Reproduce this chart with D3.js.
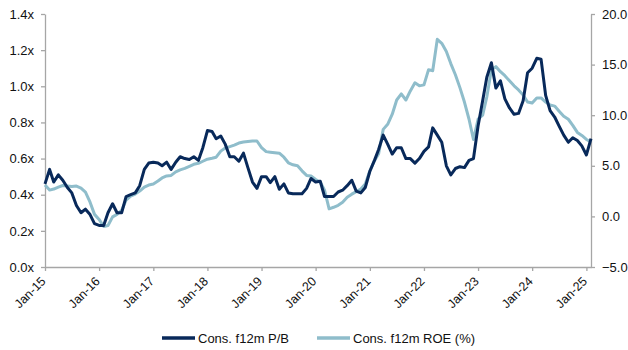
<!DOCTYPE html>
<html><head><meta charset="utf-8">
<script src="https://cdn.jsdelivr.net/npm/d3@7"></script>
<style>
body{margin:0;background:#fff;}
svg{display:block;font-family:"Liberation Sans",Arial,sans-serif;}
</style></head>
<body><svg id="c" width="628" height="350"></svg>
<script>
const startMonth = "2015-01";
const endMonth = "2025-02";
const pbValues = [0.46,0.54,0.47,0.51,0.48,0.44,0.41,0.34,0.30,0.32,0.29,0.24,
0.23,0.23,0.30,0.35,0.30,0.30,0.39,0.40,0.41,0.45,0.54,0.575,
0.58,0.575,0.56,0.58,0.54,0.58,0.61,0.60,0.595,0.61,0.59,0.66,
0.755,0.75,0.71,0.725,0.68,0.61,0.61,0.585,0.63,0.55,0.47,0.435,
0.50,0.50,0.467,0.50,0.43,0.46,0.41,0.405,0.405,0.405,0.435,0.49,
0.47,0.475,0.39,0.39,0.39,0.415,0.425,0.45,0.48,0.42,0.41,0.44,
0.53,0.59,0.65,0.73,0.68,0.625,0.66,0.66,0.60,0.60,0.575,0.60,
0.64,0.665,0.77,0.73,0.69,0.56,0.51,0.545,0.555,0.55,0.59,0.60,
0.78,0.92,1.05,1.13,0.99,1.03,0.93,0.88,0.845,0.85,0.92,1.075,
1.10,1.155,1.15,0.95,0.865,0.83,0.78,0.73,0.69,0.715,0.70,0.67,
0.62,0.71];
const roeValues = [3.1,2.6,2.7,2.9,3.05,3.0,2.95,3.0,2.8,2.4,1.4,0.2,
-0.3,-1.0,-0.9,-0.05,0.2,0.6,1.6,2.0,2.2,2.5,2.9,3.1,
3.2,3.5,3.8,4.0,4.05,4.4,4.6,4.75,4.95,5.15,5.25,5.45,
5.65,5.75,5.85,6.45,6.75,6.9,7.05,7.25,7.35,7.4,7.45,7.45,
6.8,6.4,6.35,6.3,6.25,5.85,5.3,5.1,5.0,4.5,4.05,4.0,
3.65,3.4,2.6,0.75,0.9,1.1,1.4,1.9,2.2,2.45,2.7,3.2,
4.5,5.5,6.2,8.6,9.1,10.1,11.5,12.1,11.5,12.4,13.2,12.9,
13.0,14.5,14.4,17.5,17.1,16.3,15.1,14.0,12.7,11.3,9.6,7.6,
9.6,10.0,11.8,14.5,14.8,14.3,13.9,13.4,12.9,12.5,12.0,11.3,
11.2,11.7,11.7,11.3,11.0,10.9,10.4,9.9,9.6,9.0,8.3,8.0,
7.6,7.35];
const xTickLabels = ["Jan-15","Jan-16","Jan-17","Jan-18","Jan-19","Jan-20","Jan-21","Jan-22","Jan-23","Jan-24","Jan-25"];
const leftTicks = [0.0,0.2,0.4,0.6,0.8,1.0,1.2,1.4];
const rightTicks = [-5.0,0.0,5.0,10.0,15.0,20.0];
const seriesNames = ["Cons. f12m P/B","Cons. f12m ROE (%)"];
const seriesColors = ["#08295a","#8fbdcb"];

const parseM = d3.utcParse("%Y-%m");
const parseTick = d3.utcParse("%b-%y");
const t0 = parseM(startMonth);
const dates = pbValues.map((_, i) => d3.utcMonth.offset(t0, i));

const svg = d3.select("#c");
const L = 45, R = 591, T = 14, B = 267;
const x = d3.scaleUtc().domain([t0, parseM(endMonth)]).range([L, R]);
const yL = d3.scaleLinear().domain([0, 1.4]).range([B, T]);
const yR = d3.scaleLinear().domain([-5, 20]).range([B, T]);
const axisColor = "#a6a6a6";

function styleAxis(g){
  g.selectAll(".domain").attr("stroke", axisColor).attr("stroke-width", 1.3);
  g.selectAll(".tick line").attr("stroke", axisColor).attr("stroke-width", 1.3);
  g.selectAll(".tick text").attr("fill", "#111").attr("font-size", 13)
   .attr("font-family", '"Liberation Sans",Arial,sans-serif');
}

const gl = svg.append("g").attr("transform", `translate(${L},0)`)
  .call(d3.axisLeft(yL).tickValues(leftTicks).tickFormat(d => d3.format(".1f")(d) + "x").tickSize(4).tickPadding(7).tickSizeOuter(0));
styleAxis(gl);

const gr = svg.append("g").attr("transform", `translate(${R},0)`)
  .call(d3.axisRight(yR).tickValues(rightTicks).tickFormat(d3.format(".1f")).tickSize(4).tickPadding(7).tickSizeOuter(0));
styleAxis(gr);

const gx = svg.append("g").attr("transform", `translate(0,${B})`)
  .call(d3.axisBottom(x).tickValues(xTickLabels.map(parseTick)).tickFormat((d, i) => xTickLabels[i]).tickSize(4).tickSizeOuter(0));
styleAxis(gx);
gx.selectAll(".tick text").attr("text-anchor", "end").attr("font-size", 12.5)
  .attr("x", 0).attr("y", 0).attr("dy", null)
  .attr("transform", "translate(1,15) rotate(-45)");

const lineL = d3.line().x((d, i) => x(dates[i])).y(d => yL(d));
const lineR = d3.line().x((d, i) => x(dates[i])).y(d => yR(d));

svg.append("path").datum(roeValues).attr("d", lineR).attr("fill", "none")
  .attr("stroke", seriesColors[1]).attr("stroke-width", 3).attr("stroke-linejoin", "round");
svg.append("path").datum(pbValues).attr("d", lineL).attr("fill", "none")
  .attr("stroke", seriesColors[0]).attr("stroke-width", 3).attr("stroke-linejoin", "round");

const legendItems = [{x0: 162, name: seriesNames[0], c: seriesColors[0]}, {x0: 317, name: seriesNames[1], c: seriesColors[1]}];
const lg = svg.append("g");
legendItems.forEach(it => {
  lg.append("line").attr("x1", it.x0).attr("x2", it.x0 + 33).attr("y1", 338).attr("y2", 338)
    .attr("stroke", it.c).attr("stroke-width", 3.5);
  lg.append("text").attr("x", it.x0 + 36).attr("y", 342.5).attr("font-size", 13).attr("fill", "#111").text(it.name);
});
</script></body></html>
